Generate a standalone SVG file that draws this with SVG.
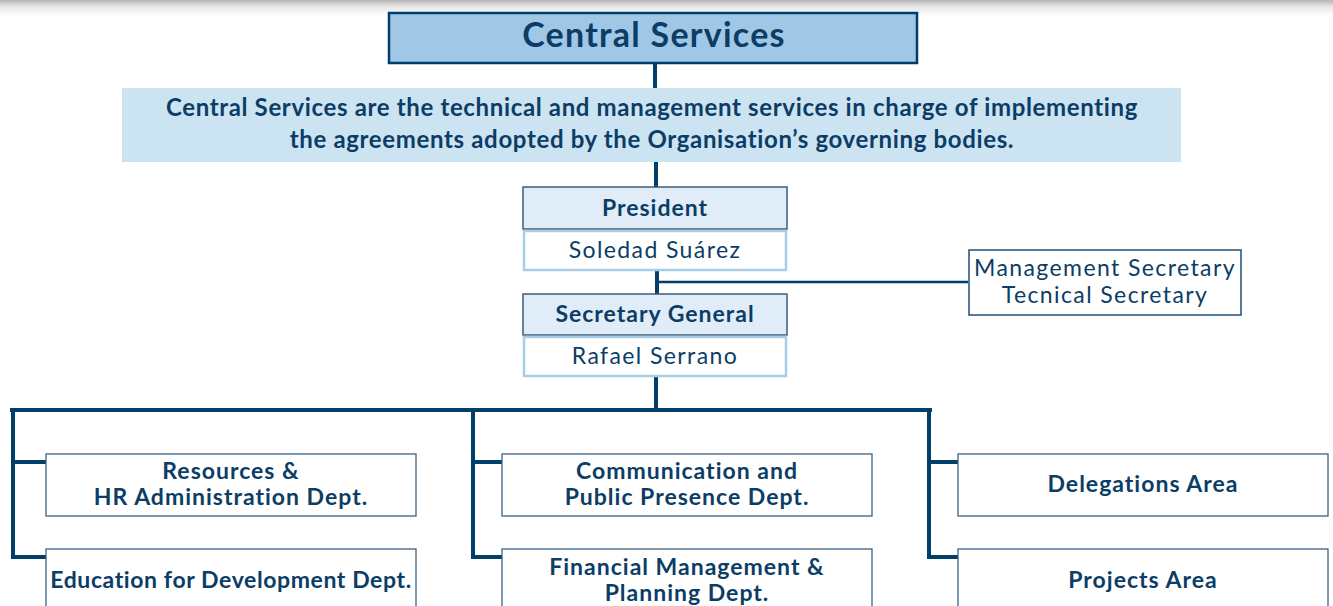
<svg xmlns="http://www.w3.org/2000/svg" width="1333" height="606" viewBox="0 0 1333 606">
<defs>
<linearGradient id="shade" x1="0" y1="0" x2="0" y2="1">
<stop offset="0" stop-color="#b5b5b5"/>
<stop offset="0.4" stop-color="#e6e6e6"/>
<stop offset="1" stop-color="#ffffff"/>
</linearGradient>
</defs>
<style>
text{font-family:Lato,"Open Sans","Liberation Sans",sans-serif;fill:#0b3d66;text-anchor:middle}
.b{font-weight:bold;font-size:23px;letter-spacing:1px}
.n{font-size:23px;letter-spacing:1.4px}
.d{font-weight:bold;font-size:24px;letter-spacing:0.65px}
.title{font-weight:bold;font-size:34px;letter-spacing:1.25px}
.hd{fill:#e0edf8;stroke:#3c5d7a;stroke-width:1.5}
.nm{fill:#ffffff;stroke:#a8cde8;stroke-width:2.5}
.dept{fill:#ffffff;stroke:#3c6385;stroke-width:1.3}
.thick{stroke:#003f6b;stroke-width:4;fill:none}
.thin{stroke:#003f6b;stroke-width:2.5;fill:none}
</style>
<rect x="0" y="0" width="1333" height="606" fill="#ffffff"/>
<rect x="0" y="0" width="1333" height="16" fill="url(#shade)"/>
<g id="connectors">
<line class="thick" x1="655" y1="63" x2="655" y2="88"/>
<line class="thick" x1="656" y1="162" x2="656" y2="187"/>
<line class="thick" x1="657" y1="270" x2="657" y2="294"/>
<line class="thin" x1="657" y1="282" x2="968" y2="282"/>
<line class="thick" x1="656" y1="377" x2="656" y2="410"/>
<line class="thick" x1="10" y1="410" x2="932" y2="410"/>
<polyline class="thick" points="13,410 13,557 46,557"/>
<line class="thick" x1="13" y1="462" x2="46" y2="462"/>
<polyline class="thick" points="473,410 473,557 502,557"/>
<line class="thick" x1="473" y1="462" x2="502" y2="462"/>
<polyline class="thick" points="929,410 929,557 958,557"/>
<line class="thick" x1="929" y1="462" x2="958" y2="462"/>
</g>
<g id="central-services">
<rect x="389" y="13" width="528" height="50" fill="#a0c8e6" stroke="#003f6b" stroke-width="2.5"/>
<text class="title" x="654" y="47">Central Services</text>
</g>
<g id="description">
<rect x="122" y="88" width="1059" height="74" fill="#cce3f2"/>
<text class="d" x="652" y="116">Central Services are the technical and management services in charge of implementing</text>
<text class="d" x="652" y="148">the agreements adopted by the Organisation’s governing bodies.</text>
</g>
<g id="president">
<rect class="hd" x="523" y="187" width="264" height="42"/>
<text class="b" x="655" y="216">President</text>
<rect class="nm" x="524" y="231" width="262" height="39"/>
<text class="n" x="655" y="258">Soledad Suárez</text>
</g>
<g id="secretaries">
<rect x="969" y="250" width="272" height="65" fill="#ffffff" stroke="#1f4f78" stroke-width="1.5"/>
<text class="n" x="1105" y="276">Management Secretary</text>
<text class="n" x="1105" y="303">Tecnical Secretary</text>
</g>
<g id="secretary-general">
<rect class="hd" x="523" y="294" width="264" height="41"/>
<text class="b" x="655" y="322">Secretary General</text>
<rect class="nm" x="524" y="337" width="262" height="39"/>
<text class="n" x="655" y="364">Rafael Serrano</text>
</g>
<g id="resources-hr">
<rect class="dept" x="46" y="454" width="370" height="62"/>
<text class="b" x="231" y="479">Resources &amp;</text>
<text class="b" x="231" y="505">HR Administration Dept.</text>
</g>
<g id="education">
<rect class="dept" x="46" y="549" width="370" height="70"/>
<text class="b" x="231" y="588" style="letter-spacing:0.6px">Education for Development Dept.</text>
</g>
<g id="communication">
<rect class="dept" x="502" y="454" width="370" height="62"/>
<text class="b" x="687" y="479">Communication and</text>
<text class="b" x="687" y="505">Public Presence Dept.</text>
</g>
<g id="financial">
<rect class="dept" x="502" y="549" width="370" height="70"/>
<text class="b" x="687" y="575">Financial Management &amp;</text>
<text class="b" x="687" y="601">Planning Dept.</text>
</g>
<g id="delegations">
<rect class="dept" x="958" y="454" width="370" height="62"/>
<text class="b" x="1143" y="492">Delegations Area</text>
</g>
<g id="projects">
<rect class="dept" x="958" y="549" width="370" height="70"/>
<text class="b" x="1143" y="588">Projects Area</text>
</g>
</svg>
